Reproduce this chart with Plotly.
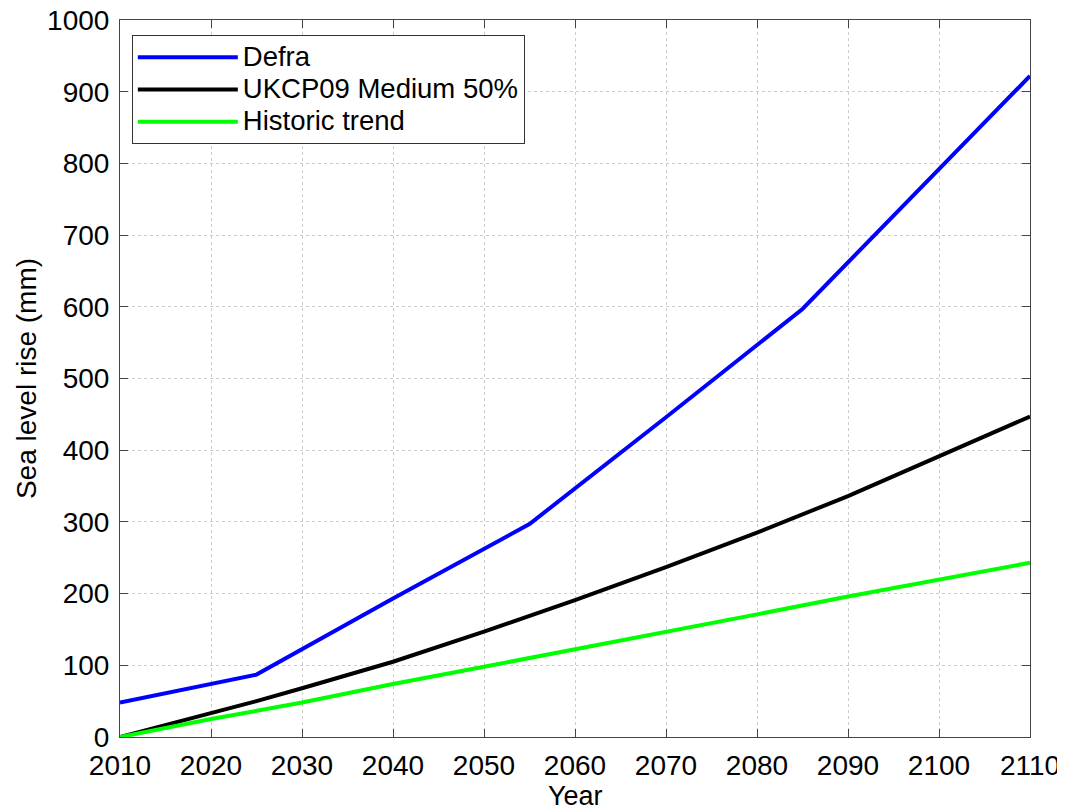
import plotly.graph_objects as go

defra_years = [2010, 2025, 2040, 2055, 2070, 2080, 2085, 2100, 2110]
defra_mm = [48, 87, 193, 297, 446, 547, 597, 792, 922]

ukcp_years = [2010, 2020, 2025, 2030, 2040, 2050, 2060, 2070, 2080, 2090, 2100, 2110]
ukcp_mm = [0, 33, 50, 68, 105, 147, 191, 237, 285, 336, 391, 447]

hist_years = [2010, 2020, 2030, 2040, 2050, 2060, 2070, 2080, 2090, 2100, 2110]
hist_mm = [0, 25, 48, 74, 98, 122, 147, 171, 196, 219, 243]

series_names = ["Defra", "UKCP09 Medium 50%", "Historic trend"]

x_ticks = list(range(2010, 2111, 10))
y_ticks = list(range(0, 1001, 100))

FONT = "Liberation Sans, Arial, Helvetica, sans-serif"
FS = 28


def legend_label(s):
    return '<span style="font-size:27.5px">' + s + "</span>"


fig = go.Figure()
fig.add_trace(go.Scatter(x=defra_years, y=defra_mm, mode="lines", name=legend_label(series_names[0]),
                         line=dict(color="#0000FF", width=4)))
fig.add_trace(go.Scatter(x=ukcp_years, y=ukcp_mm, mode="lines", name=legend_label(series_names[1]),
                         line=dict(color="#000000", width=4)))
fig.add_trace(go.Scatter(x=hist_years, y=hist_mm, mode="lines", name=legend_label(series_names[2]),
                         line=dict(color="#00FF00", width=4)))

axis_common = dict(
    showline=True, linecolor="#444444", linewidth=1, mirror="ticks",
    ticks="inside", ticklen=8, tickcolor="#444444", tickwidth=1,
    showgrid=True, gridcolor="#cccccc", griddash="dot", gridwidth=1,
    zeroline=False, tickfont=dict(size=FS, color="black", family=FONT),
    automargin=False, ticklabeloverflow="allow",
)

fig.update_xaxes(range=[2010, 2110], tickvals=x_ticks, ticktext=[str(v) for v in x_ticks],
                 ticklabelstandoff=3,
                 **axis_common)
fig.update_yaxes(range=[0, 1000], tickvals=y_ticks, ticktext=[str(v) for v in y_ticks],
                 title=dict(text="Sea level rise (mm)", font=dict(size=FS, color="black", family=FONT), standoff=2),
                 ticklabelstandoff=4,
                 **axis_common)

# x-axis title placed as an annotation so it can sit lower than plotly's default title slot
fig.add_annotation(text="Year", xref="paper", yref="paper", x=0.5, y=0,
                   xanchor="center", yanchor="middle", yshift=-59, showarrow=False,
                   font=dict(size=27, color="black", family=FONT))

fig.update_layout(
    width=1057, height=799,
    margin=dict(l=112, r=35, t=12, b=70),
    paper_bgcolor="white", plot_bgcolor="white",
    font=dict(family=FONT, size=FS, color="black"),
    showlegend=True,
    legend=dict(x=0.013, y=0.979, xanchor="left", yanchor="top",
                bgcolor="white", bordercolor="#333333", borderwidth=1,
                font=dict(size=22.5, color="black", family=FONT),
                itemwidth=100, tracegroupgap=0),
)

fig.write_html("out.html")
